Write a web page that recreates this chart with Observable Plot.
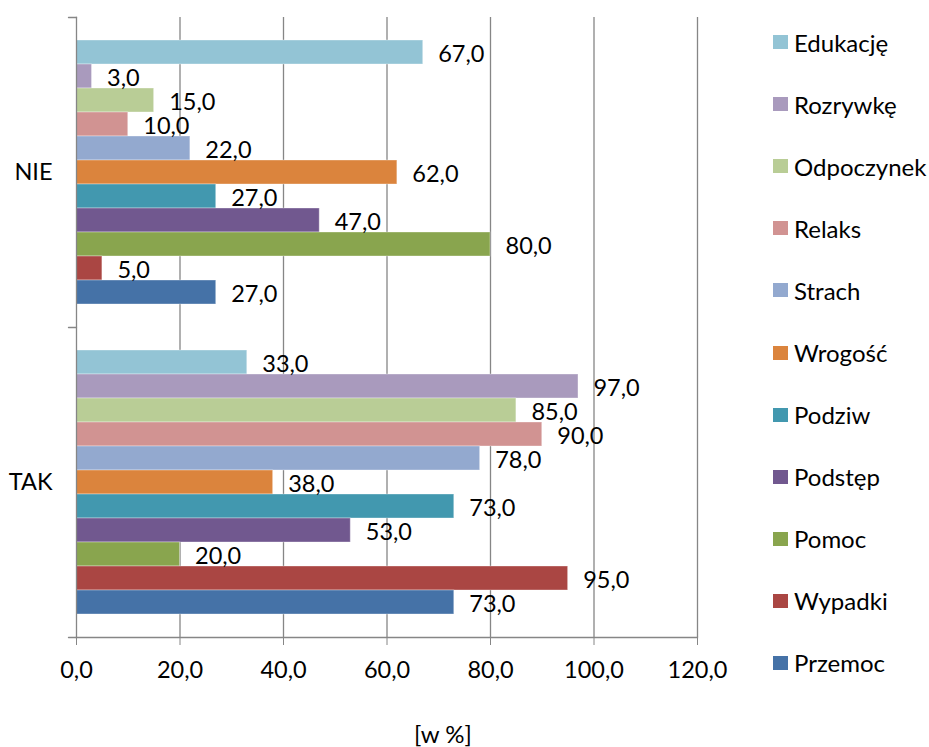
<!DOCTYPE html>
<html><head><meta charset="utf-8">
<script src="https://cdn.jsdelivr.net/npm/d3@7"></script>
<script src="https://cdn.jsdelivr.net/npm/@observablehq/plot@0.6"></script>
<style>
body{margin:0;background:#fff;font-family:Lato,sans-serif;}
#chart{position:relative;width:929px;height:747px;}
#legend{position:absolute;left:773px;top:11px;}
.item{display:flex;align-items:center;height:62.1px;font-size:24px;color:#000;}
.sw{width:15px;height:14px;margin-right:6px;flex:none;}
#cap{position:absolute;left:443px;top:719px;transform:translateX(-50%);font-size:24px;color:#000;white-space:nowrap;}
</style></head><body><div id="chart"></div>
<script>
const groups = ["NIE", "TAK"];
const series = ["Edukację","Rozrywkę","Odpoczynek","Relaks","Strach","Wrogość","Podziw","Podstęp","Pomoc","Wypadki","Przemoc"];
const valuesNIE = [67, 3, 15, 10, 22, 62, 27, 47, 80, 5, 27];
const valuesTAK = [33, 97, 85, 90, 78, 38, 73, 53, 20, 95, 73];
const colors = ["#93C4D5","#A99ABD","#B9CD96","#D19392","#93A9CF","#DB843D","#4298AF","#71588F","#89A54E","#AA4643","#4572A7"];
const xTicks = [0, 20, 40, 60, 80, 100, 120];
const xLabel = "[w %]";

const data = [];
groups.forEach((g, gi) => {
  const vals = gi === 0 ? valuesNIE : valuesTAK;
  series.forEach((s, i) => data.push({group: g, series: s, value: vals[i]}));
});

const fmt = d => d.toFixed(1).replace(".", ",");
const gray = "#868686";
const tickShape = {draw(context, l) { context.moveTo(0, 0); context.lineTo(0, -l); }};

const chart = Plot.plot({
  width: 929, height: 747,
  marginLeft: 76, marginRight: 232, marginTop: 16, marginBottom: 110,
  style: {fontFamily: "Lato", fontSize: "23px", background: "white", color: "black"},
  x: {domain: [0, 120]},
  y: {domain: series, axis: null, paddingInner: 0, paddingOuter: 0.76},
  fy: {domain: groups, padding: 0},
  color: {domain: series, range: colors},
  marks: [
    Plot.gridX({ticks: xTicks.slice(1), stroke: gray, strokeOpacity: 1, strokeWidth: 1.3}),
    Plot.barX(data, {x: "value", y: "series", fy: "group", fill: "series", stroke: "white", strokeOpacity: 0.35, strokeWidth: 1}),
    Plot.text(data, {x: "value", y: "series", fy: "group", text: d => fmt(d.value), textAnchor: "start", dx: 15, dy: 2, fontSize: 23.5, fill: "black"}),
    Plot.frame({anchor: "left", facet: "super", stroke: gray, strokeWidth: 1.3}),
    Plot.frame({anchor: "bottom", facet: "super", stroke: gray, strokeWidth: 1.3}),
    Plot.vector(groups, {fy: d => d, frameAnchor: "top-left", rotate: -90, length: 8, anchor: "start", shape: tickShape, stroke: gray, strokeWidth: 1.3}),
    Plot.vector(groups.slice(-1), {fy: d => d, frameAnchor: "bottom-left", rotate: -90, length: 8, anchor: "start", shape: tickShape, stroke: gray, strokeWidth: 1.3}),
    Plot.axisX({anchor: "bottom", ticks: xTicks, tickFormat: fmt, tickSize: 8, tickPadding: 16, fontSize: 23.5, stroke: gray, fill: "black", label: null}),
    Plot.axisFy({anchor: "left", tickSize: 0, tickPadding: 24, fontSize: 23.5, fill: "black", label: null})
  ]
});

const root = document.getElementById("chart");
root.appendChild(chart);

const legend = document.createElement("div");
legend.id = "legend";
series.forEach((s, i) => {
  const item = document.createElement("div");
  item.className = "item";
  const sw = document.createElement("span");
  sw.className = "sw";
  sw.style.background = colors[i];
  const t = document.createElement("span");
  t.textContent = s;
  item.appendChild(sw); item.appendChild(t);
  legend.appendChild(item);
});
root.appendChild(legend);

const cap = document.createElement("div");
cap.id = "cap";
cap.textContent = xLabel;
root.appendChild(cap);
</script></body></html>
